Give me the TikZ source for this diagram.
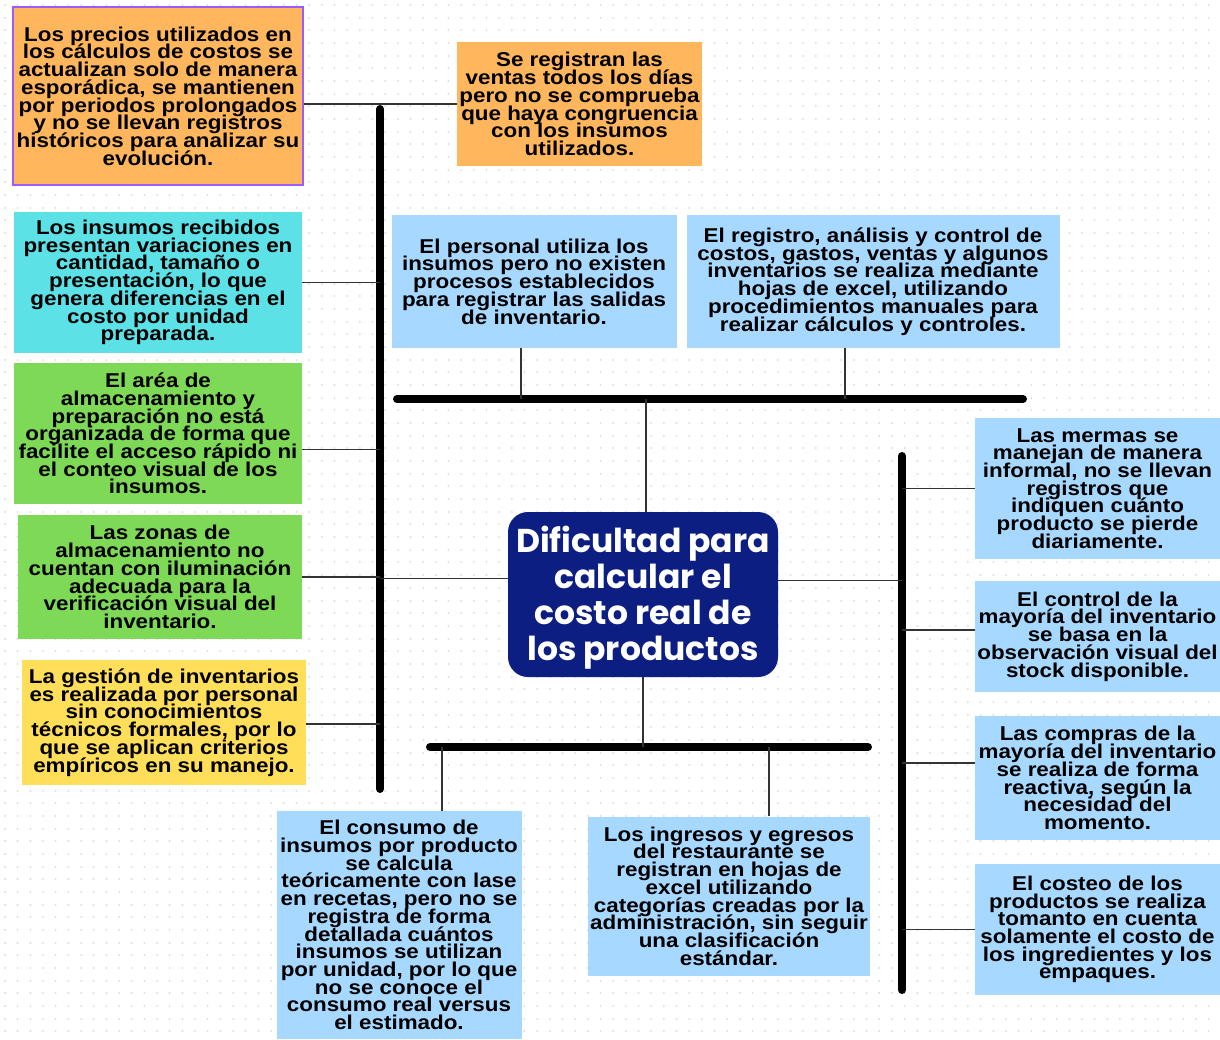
\documentclass[tikz,border=0pt]{standalone}
\usepackage{fontspec}
\setmainfont{Liberation Sans}[FakeStretch=1.12]
\newfontfamily\titlefont{Poppins}
\newcommand\boxtext{\fontsize{20}{17.7}\selectfont\bfseries\lineskiplimit=-100pt\relax}
\newcommand\titletext{\titlefont\fontsize{33}{36}\selectfont\bfseries\lineskiplimit=-100pt\relax}
\definecolor{dotc}{HTML}{DADADA}
\definecolor{orangebox}{HTML}{FFB65C}
\definecolor{purpleline}{HTML}{9B5CFF}
\definecolor{cyanbox}{HTML}{5CE1E6}
\definecolor{greenbox}{HTML}{7ED957}
\definecolor{yellowbox}{HTML}{FFDE59}
\definecolor{bluebox}{HTML}{A7D8FF}
\definecolor{navy}{HTML}{0C1E82}
\definecolor{linec}{HTML}{333333}
\begin{document}
\begin{tikzpicture}[x=1pt,y=-1pt,
  box/.style={inner sep=0pt,align=center,font=\boxtext},
  spine/.style={line width=8pt,line cap=round},
  link/.style={line width=1.5pt,linec}]
\useasboundingbox (0,0) rectangle (1220,1039);
\fill[white] (0,0) rectangle (1220,1039);
\foreach \j in {0,...,82}
  \draw[dotc,line width=2pt,line cap=round,dash pattern=on 0.01pt off 12.66pt] (5,5+12.67*\j) -- (1220,5+12.67*\j);

% left side
\node[box,fill=orangebox,draw=purpleline,line width=2pt,minimum width=290pt,minimum height=178pt] (b1) at (158,96)
  {Los precios utilizados en\\los cálculos de costos se\\actualizan solo de manera\\esporádica, se mantienen\\por periodos prolongados\\y no se llevan registros\\históricos para analizar su\\evolución.};
\node[box,fill=orangebox,minimum width=245pt,minimum height=124pt] (b2) at (579.5,104)
  {Se registran las\\ventas todos los días\\pero no se comprueba\\que haya congruencia\\con los insumos\\utilizados.};
\node[box,fill=cyanbox,minimum width=288pt,minimum height=141pt] (b3) at (158,282.5)
  {Los insumos recibidos\\presentan variaciones en\\cantidad, tamaño o\\presentación, lo que\\genera diferencias en el\\costo por unidad\\preparada.};
\node[box,fill=greenbox,minimum width=288pt,minimum height=141pt] (b4) at (158,433.5)
  {El aréa de\\almacenamiento y\\preparación no está\\organizada de forma que\\facilite el acceso rápido ni\\el conteo visual de los\\insumos.};
\node[box,fill=greenbox,minimum width=284pt,minimum height=124pt] (b5) at (160,577)
  {Las zonas de\\almacenamiento no\\cuentan con iluminación\\adecuada para la\\verificación visual del\\inventario.};
\node[box,fill=yellowbox,minimum width=284pt,minimum height=125pt] (b6) at (164,722.5)
  {La gestión de inventarios\\es realizada por personal\\sin conocimientos\\técnicos formales, por lo\\que se aplican criterios\\empíricos en su manejo.};

% top
\node[box,fill=bluebox,minimum width=285pt,minimum height=133pt] (b7) at (534,281.5)
  {El personal utiliza los\\insumos pero no existen\\procesos establecidos\\para registrar las salidas\\de inventario.};
\node[box,fill=bluebox,minimum width=373pt,minimum height=133pt] (b8) at (873,281.5)
  {El registro, análisis y control de\\costos, gastos, ventas y algunos\\inventarios se realiza mediante\\hojas de excel, utilizando\\procedimientos manuales para\\realizar cálculos y controles.};

% centre
\node[fill=navy,text=white,rounded corners=20pt,align=center,inner sep=0pt,minimum width=270pt,minimum height=165pt,
  font=\titletext] (c) at (643,594.5)
  {\rule{0pt}{32.5pt}Dificultad para\\calcular el\\costo real de\\los productos};

% right
\node[box,fill=bluebox,minimum width=245pt,minimum height=141pt] (b9) at (1097.5,488.5)
  {Las mermas se\\manejan de manera\\informal, no se llevan\\registros que\\indiquen cuánto\\producto se pierde\\diariamente.};
\node[box,fill=bluebox,minimum width=245pt,minimum height=111pt] (b10) at (1097.5,636.5)
  {El control de la\\mayoría del inventario\\se basa en la\\observación visual del\\stock disponible.};
\node[box,fill=bluebox,minimum width=245pt,minimum height=124pt] (b11) at (1097.5,778)
  {Las compras de la\\mayoría del inventario\\se realiza de forma\\reactiva, según la\\necesidad del\\momento.};
\node[box,fill=bluebox,minimum width=245pt,minimum height=131pt] (b12) at (1097.5,929.5)
  {El costeo de los\\productos se realiza\\tomanto en cuenta\\solamente el costo de\\los ingredientes y los\\empaques.};

% bottom
\node[box,fill=bluebox,minimum width=245pt,minimum height=228pt] (b13) at (399,925)
  {El consumo de\\insumos por producto\\se calcula\\teóricamente con lase\\en recetas, pero no se\\registra de forma\\detallada cuántos\\insumos se utilizan\\por unidad, por lo que\\no se conoce el\\consumo real versus\\el estimado.};
\node[box,fill=bluebox,minimum width=282pt,minimum height=159pt] (b14) at (729,896)
  {Los ingresos y egresos\\del restaurante se\\registran en hojas de\\excel utilizando\\categorías creadas por la\\administración, sin seguir\\una clasificación\\estándar.};

% spines
\coordinate (lt) at (380,109);
\coordinate (lb) at (380,789);
\coordinate (tl) at (397,399);
\coordinate (tr) at (1023,399);
\coordinate (bl) at (430,747);
\coordinate (br) at (868,747);
\coordinate (rt) at (902,456);
\coordinate (rb) at (902,990);
\draw[spine] (lt) -- (lb);
\draw[spine] (tl) -- (tr);
\draw[spine] (bl) -- (br);
\draw[spine] (rt) -- (rb);

% links
\draw[link] (b1.east |- b2.west) -- (b2.west);
\draw[link] (b3.east) -- (b3.east -| lt);
\draw[link] ([yshift=-16pt]b4.east) -- ([yshift=-16pt]b4.east -| lt);
\draw[link] (b5.east) -- (b5.east -| lt);
\draw[link] ([yshift=-1.5pt]b6.east) -- ([yshift=-1.5pt]b6.east -| lt);
\draw[link] ([yshift=16pt]c.west) -- ([yshift=16pt]c.west -| lt);
\draw[link] ([yshift=14pt]c.east) -- ([yshift=14pt]c.east -| rt);
\draw[link] ([xshift=3pt]c.north) -- ([xshift=3pt]c.north |- tl);
\draw[link] (c.south) -- (c.south |- bl);
\draw[link] ([xshift=-13pt]b7.south) -- ([xshift=-13pt]b7.south |- tl);
\draw[link] ([xshift=-28pt]b8.south) -- ([xshift=-28pt]b8.south |- tl);
\draw[link] ([xshift=43pt]b13.north) -- ([xshift=43pt]b13.north |- bl);
\draw[link] ([xshift=40pt]b14.north) -- ([xshift=40pt]b14.north |- bl);
\draw[link] (b9.west) -- (b9.west -| rt);
\draw[link] ([yshift=6.5pt]b10.west) -- ([yshift=6.5pt]b10.west -| rt);
\draw[link] ([yshift=15pt]b11.west) -- ([yshift=15pt]b11.west -| rt);
\draw[link] (b12.west) -- (b12.west -| rt);
\end{tikzpicture}
\end{document}
